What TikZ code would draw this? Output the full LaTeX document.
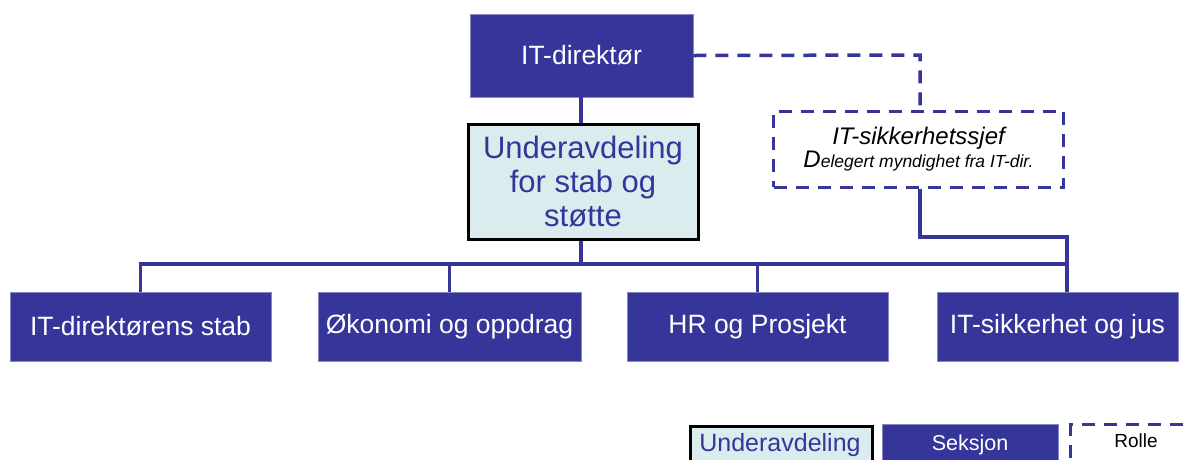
\documentclass[tikz,border=0pt]{standalone}
\usepackage{fontspec}
\setmainfont{Liberation Sans}
\definecolor{sek}{HTML}{35359A}
\definecolor{uafill}{HTML}{DAECEE}
\begin{document}
\begin{tikzpicture}[x=1pt,y=1pt,
  seksjon/.style={fill=sek, draw=sek!60, line width=0.6pt, text=white, font=\fontsize{26.5}{30}\selectfont, inner sep=0pt},
  underavd/.style={fill=uafill, draw=black, line width=3pt, text=sek, font=\fontsize{31}{34}\selectfont, align=center, inner sep=0pt},
  rolle/.style={draw=sek, line width=3pt, dash pattern=on 13pt off 9pt, fill=white, inner sep=0pt, align=center},
  conn/.style={draw=sek, line width=3.5pt},
  dconn/.style={draw=sek, line width=3.5pt, dash pattern=on 13pt off 9pt}]
\useasboundingbox (0,0) rectangle (1189,-459);
\fill[white] (0,0) rectangle (1189,-459);
\begin{scope}
\clip (0,0) rectangle (1189,-459);
% nodes
\node[seksjon, minimum width=223pt, minimum height=83pt] (dir) at (581.5,-55.5) {IT-direktør};
\node[underavd, minimum width=230pt, minimum height=115pt] (ua) at (583,-181.5) {Underavdeling\\for stab og\\støtte};
\node[rolle, minimum width=290pt, minimum height=76pt] (rol) at (918.5,-149) {{\itshape\fontsize{24}{26}\selectfont IT-sikkerhetssjef}\\[0pt]{\itshape\fontsize{24}{26}\selectfont D\fontsize{17.5}{20}\selectfont elegert myndighet fra IT-dir.}};
\node[seksjon, minimum width=261pt, minimum height=69pt] (s1) at (140.5,-326.5) {IT-direktørens stab};
\node[seksjon, minimum width=263pt, minimum height=69pt] (s2) at (449.5,-326.5) {Økonomi og oppdrag};
\node[seksjon, minimum width=261pt, minimum height=69pt] (s3) at (757.5,-326.5) {HR og Prosjekt};
\node[seksjon, minimum width=241pt, minimum height=69pt] (s4) at (1057.5,-326.5) {IT-sikkerhet og jus};
% connector points
\coordinate (bus) at (581,-264);
\coordinate (d1) at (920,-55);
\coordinate (r1) at (920,-237);
\coordinate (r2) at (1067,-237);
% connectors
\draw[conn] (dir.south -| bus) -- (ua.north -| bus);
\draw[conn] (ua.south -| bus) -- (bus);
\draw[conn] (s1.north) |- (bus) -| (r2 |- s4.north);
\draw[conn] (s2.north) -- (s2.north |- bus);
\draw[conn] (s3.north) -- (s3.north |- bus);
\draw[dconn] (dir.east) -- (d1) -- (d1 |- rol.north);
\draw[conn] (rol.south -| r1) -- (r1) -- (r2) -- (r2 |- bus);
% legend
\node[underavd, minimum width=182pt, minimum height=50pt, anchor=north west] (lu) at (689,-425) {};
\node[text=sek, font=\fontsize{25}{28}\selectfont, anchor=base] (lut) at (780,-451) {Underavdeling};
\node[seksjon, minimum width=176pt, minimum height=50pt, anchor=north west] (ls) at (882,-424) {};
\node[text=white, font=\fontsize{21.5}{24}\selectfont, anchor=base] (lst) at (970,-450) {Seksjon};
\node[rolle, minimum width=130pt, minimum height=50pt, anchor=north west] (lr) at (1069,-423) {};
\node[font=\fontsize{19}{22}\selectfont, anchor=base] (lrt) at (1136,-447) {Rolle};
\end{scope}
\end{tikzpicture}
\end{document}
